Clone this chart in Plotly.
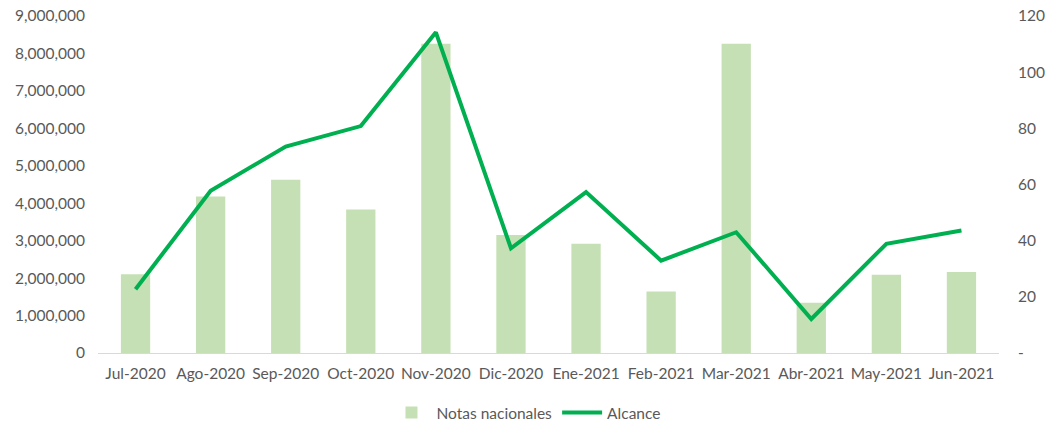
import plotly.graph_objects as go

months = ["Jul-2020", "Ago-2020", "Sep-2020", "Oct-2020", "Nov-2020", "Dic-2020",
          "Ene-2021", "Feb-2021", "Mar-2021", "Abr-2021", "May-2021", "Jun-2021"]
notas = [2100000, 4180000, 4630000, 3830000, 8260000, 3150000,
         2920000, 1640000, 8260000, 1340000, 2090000, 2160000]
alcance = [22.7, 57.8, 73.5, 80.8, 114.2, 37.3, 57.3, 32.9, 43.0, 12.1, 38.9, 43.6]

left_ticks = list(range(0, 9000001, 1000000))
left_text = ["0"] + [f"{v:,}" for v in left_ticks[1:]]
right_ticks = list(range(0, 121, 20))
right_text = ["-"] + [str(v) for v in right_ticks[1:]]

font = dict(family="Lato, 'Open Sans', sans-serif", size=15.5, color="#595959")

fig = go.Figure()
fig.add_trace(go.Bar(x=months, y=notas, name="Notas nacionales",
                     marker=dict(color="#C5E0B4", line=dict(width=0)), yaxis="y"))
fig.add_trace(go.Scatter(x=months, y=alcance, name="Alcance", mode="lines",
                         line=dict(color="#00B050", width=4), yaxis="y2"))

fig.update_layout(
    width=1055, height=423,
    margin=dict(l=98, r=56, t=16, b=70, autoexpand=False),
    paper_bgcolor="white", plot_bgcolor="white",
    font=font,
    bargap=0.61,
    showlegend=True,
    legend=dict(orientation="h", x=0.475, xanchor="center", y=-0.178, yanchor="middle",
                font=font, itemwidth=40),
    xaxis=dict(showgrid=False, showline=True, linecolor="#D9D9D9", linewidth=1,
               ticks="", tickfont=font, zeroline=False, automargin=False,
               ticklabelstandoff=6),
    yaxis=dict(range=[0, 9000000], tickvals=left_ticks, ticktext=left_text,
               showgrid=False, zeroline=False, showline=False, ticks="",
               tickfont=font, ticklabelstandoff=12, automargin=False,
               ticklabeloverflow="allow"),
    yaxis2=dict(range=[0, 120], tickvals=right_ticks, ticktext=right_text,
                overlaying="y", side="right", showgrid=False, zeroline=False,
                showline=False, ticks="", tickfont=font, ticklabelstandoff=18,
                automargin=False, ticklabeloverflow="allow"),
)

fig.write_html("out.html", config={"displayModeBar": False},
               post_script="document.body.style.margin='0';document.body.style.overflow='hidden';")
